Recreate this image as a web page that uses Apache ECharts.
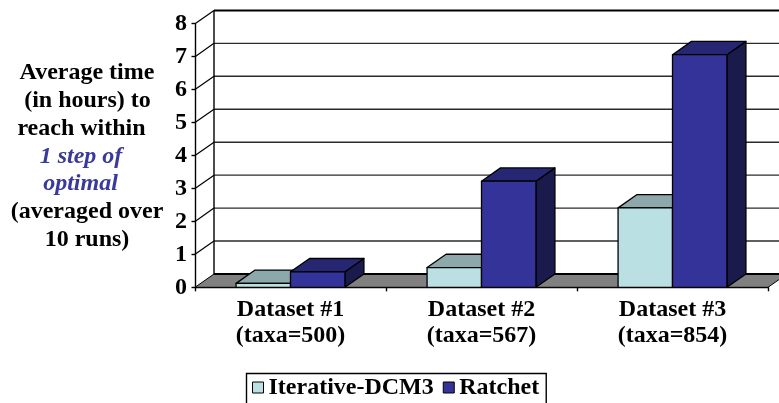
<!DOCTYPE html>
<html>
<head>
<meta charset="utf-8">
<style>html,body{margin:0;padding:0;background:#fff}#chart{width:779px;height:403px}</style>
<script src="https://cdn.jsdelivr.net/npm/echarts@6/dist/echarts.min.js"></script>
</head>
<body>
<div id="chart"></div>
<script>
const categories = ['Dataset #1\n(taxa=500)', 'Dataset #2\n(taxa=567)', 'Dataset #3\n(taxa=854)'];
const iterativeDcm3 = [0.12, 0.6, 2.41];
const ratchet = [0.47, 3.22, 7.06];
const hourTicks = [0, 1, 2, 3, 4, 5, 6, 7, 8];
const titleLines = ['Average time', '(in hours) to', 'reach within', '1 step of', 'optimal', '(averaged over', '10 runs)'];

const SERIF = '"Liberation Serif", "Times New Roman", serif';
const DEPTH_X = 19;
const DEPTH_Y = 13.3;
const BAR_SHARE = 0.285;

// Extruded column: side and top faces are offset from the front face by the chart depth.
function columnRenderer(front, top, side, slot) {
  return function (params, api) {
    const band = api.size([1, 0])[0];
    const w = band * BAR_SHARE;
    const base = api.coord([api.value(0), 0]);
    const head = api.coord([api.value(0), api.value(1)]);
    const x0 = base[0] + slot * w;
    const x1 = x0 + w;
    const yB = base[1];
    const yT = head[1];
    const line = { stroke: '#000', lineWidth: 1.3, lineJoin: 'round' };
    const poly = (points, fill) => ({
      type: 'polygon',
      shape: { points: points },
      style: Object.assign({ fill: fill }, line)
    });
    return {
      type: 'group',
      children: [
        poly([[x1, yB], [x1 + DEPTH_X, yB - DEPTH_Y], [x1 + DEPTH_X, yT - DEPTH_Y], [x1, yT]], side),
        poly([[x0, yT], [x0 + DEPTH_X, yT - DEPTH_Y], [x1 + DEPTH_X, yT - DEPTH_Y], [x1, yT]], top),
        poly([[x0, yB], [x1, yB], [x1, yT], [x0, yT]], front)
      ]
    };
  };
}

// Back wall rules, the return lines to the front axis, and the grey floor.
function wallRenderer(params, api) {
  const cs = params.coordSys;
  const v = api.value(1);
  const y = api.coord([0, v])[1];
  const xL = cs.x;
  const xR = cs.x + cs.width;
  const children = [];
  const isEdge = v === 0 || v === hourTicks[hourTicks.length - 1];
  if (v === 0) {
    children.push({
      type: 'polygon',
      shape: { points: [[xL, y], [xL + DEPTH_X, y - DEPTH_Y], [xR + DEPTH_X, y - DEPTH_Y], [xR, y]] },
      style: { fill: '#808080', stroke: '#000', lineWidth: 1 }
    });
  } else {
    children.push({
      type: 'line',
      shape: { x1: xL, y1: y, x2: xL + DEPTH_X, y2: y - DEPTH_Y },
      style: { stroke: '#000', lineWidth: 1.2 }
    });
  }
  children.push({
    type: 'line',
    shape: { x1: xL + DEPTH_X, y1: y - DEPTH_Y, x2: xR + DEPTH_X, y2: y - DEPTH_Y },
    style: { stroke: isEdge ? '#000' : '#2b2b2b', lineWidth: isEdge ? 2 : 1.4 }
  });
  if (v === hourTicks[hourTicks.length - 1]) {
    children.push({
      type: 'line',
      shape: { x1: xL + DEPTH_X, y1: y - DEPTH_Y, x2: xL + DEPTH_X, y2: cs.y + cs.height - DEPTH_Y },
      style: { stroke: '#000', lineWidth: 1.4 }
    });
  }
  return { type: 'group', children: children };
}

// Left-hand caption, one text element per line so the indents and the coloured phrase stay put.
const titleCentres = [87, 87.5, 81.5, 81, 80.5, 87, 87];
const titleGraphics = titleLines.map((text, i) => {
  const accent = i === 3 || i === 4;
  return {
    type: 'text',
    x: titleCentres[i],
    y: 73 + i * 27.8,
    z: 10,
    style: {
      text: text,
      align: 'center',
      verticalAlign: 'middle',
      fill: accent ? '#3a3a9e' : '#000',
      font: (accent ? 'italic ' : '') + 'bold 24px ' + SERIF
    }
  };
});

const chart = echarts.init(document.getElementById('chart'), null, { renderer: 'canvas' });
chart.setOption({
  animation: false,
  backgroundColor: '#fff',
  graphic: titleGraphics,
  grid: { left: 195, right: 11, top: 23.7, bottom: 115.7, containLabel: false },
  legend: {
    data: ['Iterative-DCM3', 'Ratchet'],
    left: 246.5,
    top: 373.5,
    orient: 'horizontal',
    icon: 'rect',
    itemWidth: 11,
    itemHeight: 11,
    itemGap: 9,
    padding: [2, 7, 6, 5.5],
    selectedMode: false,
    backgroundColor: '#fff',
    borderColor: '#000',
    borderWidth: 1.4,
    itemStyle: { borderColor: '#000', borderWidth: 1 },
    textStyle: { fontFamily: SERIF, fontWeight: 'bold', fontSize: 24, color: '#000' }
  },
  xAxis: {
    type: 'category',
    data: categories,
    boundaryGap: true,
    axisLine: { lineStyle: { color: '#000', width: 1.4 } },
    axisTick: { show: true, length: 4, lineStyle: { color: '#000', width: 1.4 } },
    axisLabel: {
      interval: 0,
      margin: 9,
      color: '#000',
      fontFamily: SERIF,
      fontWeight: 'bold',
      fontSize: 24,
      lineHeight: 26
    },
    splitLine: { show: false }
  },
  yAxis: {
    type: 'value',
    min: hourTicks[0],
    max: hourTicks[hourTicks.length - 1],
    interval: 1,
    axisLine: { show: true, lineStyle: { color: '#000', width: 1.4 } },
    axisTick: { show: true, length: 3.5, lineStyle: { color: '#000', width: 1.4 } },
    axisLabel: {
      margin: 8,
      color: '#000',
      fontFamily: SERIF,
      fontWeight: 'bold',
      fontSize: 24
    },
    splitLine: { show: false }
  },
  series: [
    {
      type: 'custom',
      name: 'wall',
      silent: true,
      z: 1,
      renderItem: wallRenderer,
      encode: { x: 0, y: 1 },
      data: hourTicks.map(v => [0, v])
    },
    {
      type: 'custom',
      name: 'Iterative-DCM3',
      z: 3,
      itemStyle: { color: '#bbe0e3' },
      renderItem: columnRenderer('#bbe0e3', '#8ca8aa', '#5d7071', -1),
      encode: { x: 0, y: 1 },
      data: iterativeDcm3.map((v, i) => [i, v])
    },
    {
      type: 'custom',
      name: 'Ratchet',
      z: 4,
      itemStyle: { color: '#333399' },
      renderItem: columnRenderer('#333399', '#262673', '#1a1a4d', 0),
      encode: { x: 0, y: 1 },
      data: ratchet.map((v, i) => [i, v])
    }
  ]
});
</script>
</body>
</html>
